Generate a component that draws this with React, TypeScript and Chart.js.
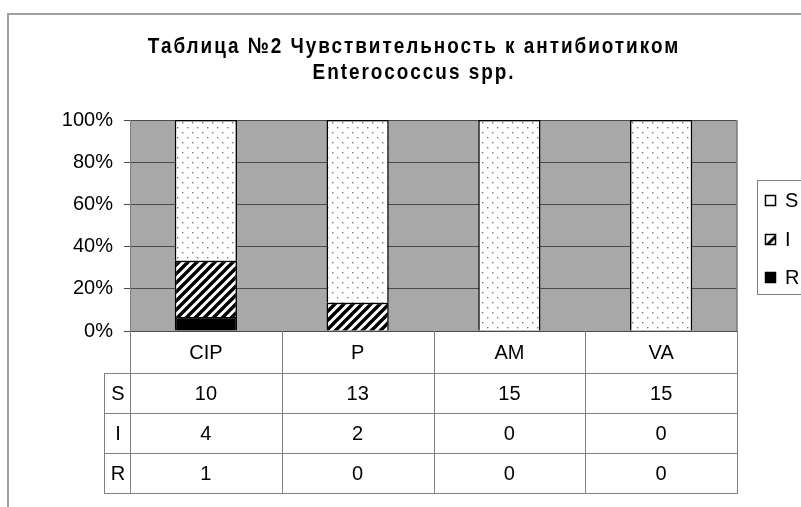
import React, { useEffect, useRef } from "react";
import { Chart, registerables } from "chart.js";

Chart.register(...registerables);

// ---- data ----
const categories = ["CIP", "P", "AM", "VA"];
const seriesS = [10, 13, 15, 15];
const seriesI = [4, 2, 0, 0];
const seriesR = [1, 0, 0, 0];
const legendNames = ["S", "I", "R"];
const yTickValues = [0, 20, 40, 60, 80, 100];
const titleLines = ["Таблица №2 Чувствительность к антибиотиком", "Enterococcus spp."];

const FONT = "'Liberation Sans', Arial, sans-serif";

function totals(i: number) {
  return seriesS[i] + seriesI[i] + seriesR[i];
}
function toPct(arr: number[]) {
  return arr.map((v, i) => (v / totals(i)) * 100);
}

function makeDots(): CanvasPattern {
  const c = document.createElement("canvas");
  c.width = 10;
  c.height = 10;
  const g = c.getContext("2d")!;
  g.fillStyle = "#ffffff";
  g.fillRect(0, 0, 10, 10);
  g.fillStyle = "#7a7a7a";
  g.fillRect(2, 2, 1.4, 1.4);
  g.fillRect(7, 7, 1.4, 1.4);
  return g.createPattern(c, "repeat")!;
}

function makeStripes(): CanvasPattern {
  const c = document.createElement("canvas");
  c.width = 9;
  c.height = 9;
  const g = c.getContext("2d")!;
  g.fillStyle = "#ffffff";
  g.fillRect(0, 0, 9, 9);
  g.strokeStyle = "#000000";
  g.lineWidth = 3.4;
  g.beginPath();
  g.moveTo(-1, 10);
  g.lineTo(10, -1);
  g.moveTo(-3, 3);
  g.lineTo(3, -3);
  g.moveTo(6, 12);
  g.lineTo(12, 6);
  g.stroke();
  return g.createPattern(c, "repeat")!;
}

export default function App() {
  const ref = useRef<HTMLCanvasElement | null>(null);

  useEffect(() => {
    const canvas = ref.current!;
    const dots = makeDots();
    const stripes = makeStripes();
    const fills: Record<string, any> = { S: dots, I: stripes, R: "#000000" };

    const chromePlugin = {
      id: "chrome",
      beforeDraw(chart: any) {
        const { ctx, chartArea: a } = chart;
        ctx.save();
        ctx.fillStyle = "#ffffff";
        ctx.fillRect(0, 0, chart.width, chart.height);
        // outer frame
        ctx.strokeStyle = "#a0a0a0";
        ctx.lineWidth = 2;
        ctx.beginPath();
        ctx.moveTo(8, chart.height + 2);
        ctx.lineTo(8, 14);
        ctx.lineTo(chart.width + 2, 14);
        ctx.stroke();
        // plot area
        ctx.fillStyle = "#a8a8a8";
        ctx.fillRect(a.left, a.top, a.right - a.left, a.bottom - a.top);
        ctx.restore();
      },
      beforeDatasetsDraw(chart: any) {
        const { ctx, chartArea: a } = chart;
        ctx.save();
        ctx.strokeStyle = "#7a7a7a";
        ctx.lineWidth = 1.5;
        ctx.beginPath();
        ctx.moveTo(a.right, a.top);
        ctx.lineTo(a.right, a.bottom);
        ctx.stroke();
        ctx.restore();
      },
      afterDraw(chart: any) {
        const { ctx, chartArea: a } = chart;
        const xs = chart.scales.x;
        const n = categories.length;
        const colW = (a.right - a.left) / n;
        const headerBottom = a.bottom + 42;
        const rowH = 40;
        const tableBottom = headerBottom + rowH * 3;
        const labelLeft = 104;

        ctx.save();
        ctx.strokeStyle = "#808080";
        ctx.lineWidth = 1;
        ctx.beginPath();
        for (let k = 0; k <= n; k++) {
          const x = Math.round(a.left + k * colW) + 0.5;
          ctx.moveTo(x, a.bottom);
          ctx.lineTo(x, tableBottom);
        }
        ctx.moveTo(labelLeft + 0.5, headerBottom);
        ctx.lineTo(labelLeft + 0.5, tableBottom);
        for (let r = 0; r <= 3; r++) {
          const y = Math.round(headerBottom + r * rowH) + 0.5;
          ctx.moveTo(labelLeft, y);
          ctx.lineTo(a.right + 1, y);
        }
        ctx.stroke();

        ctx.fillStyle = "#000000";
        ctx.font = `20px ${FONT}`;
        ctx.textAlign = "center";
        ctx.textBaseline = "middle";
        categories.forEach((c, i) => {
          ctx.fillText(c, xs.getPixelForValue(i), a.bottom + 22);
        });
        const rows = [seriesS, seriesI, seriesR];
        rows.forEach((arr, r) => {
          const cy = headerBottom + r * rowH + rowH / 2 + 1;
          ctx.fillText(legendNames[r], (labelLeft + a.left) / 2 + 1, cy);
          arr.forEach((v, i) => {
            ctx.fillText(String(v), xs.getPixelForValue(i), cy);
          });
        });

        // legend
        const lx = 757;
        const ly = 180;
        ctx.strokeStyle = "#808080";
        ctx.lineWidth = 1;
        ctx.strokeRect(lx + 0.5, ly + 0.5, 100, 114);
        legendNames.forEach((name, r) => {
          const cy = [200, 239, 277][r];
          ctx.fillStyle = name === "R" ? "#000000" : "#ffffff";
          ctx.fillRect(765, cy - 5, 11, 11);
          if (name === "I") {
            ctx.beginPath();
            ctx.moveTo(765, cy + 6);
            ctx.lineTo(776, cy - 5);
            ctx.lineTo(776, cy - 1);
            ctx.lineTo(769, cy + 6);
            ctx.closePath();
            ctx.fillStyle = "#000";
            ctx.fill();
          }
          ctx.strokeStyle = "#000";
          ctx.lineWidth = 1.5;
          ctx.strokeRect(765.5, cy - 4.5, 10, 10);
          ctx.fillStyle = "#000";
          ctx.textAlign = "left";
          ctx.font = `20px ${FONT}`;
          ctx.fillText(name, 785, cy + 1);
        });

        // title (narrow bold look)
        ctx.fillStyle = "#000";
        ctx.textAlign = "center";
        ctx.font = `bold 22px ${FONT}`;
        (ctx as any).letterSpacing = "2.3px";
        const sx = 0.86;
        ctx.save();
        ctx.scale(sx, 1);
        ctx.fillText(titleLines[0], 414 / sx, 47);
        ctx.fillText(titleLines[1], 414 / sx, 73);
        ctx.restore();
        ctx.restore();
      },
    };

    const chart = new Chart(canvas, {
      type: "bar",
      data: {
        labels: categories,
        datasets: [
          { label: "R", data: toPct(seriesR), backgroundColor: fills.R },
          { label: "I", data: toPct(seriesI), backgroundColor: fills.I },
          { label: "S", data: toPct(seriesS), backgroundColor: fills.S },
        ].map((d) => ({
          ...d,
          borderColor: "#000000",
          borderWidth: 1.5,
          categoryPercentage: 1,
          barPercentage: 0.41,
        })),
      },
      options: {
        animation: false,
        responsive: false,
        devicePixelRatio: 1,
        layout: { padding: { top: 120, bottom: 176, left: 0, right: 64 } },
        plugins: {
          legend: { display: false },
          title: { display: false },
          tooltip: { enabled: false },
        },
        scales: {
          x: { stacked: true, display: false },
          y: {
            stacked: true,
            min: 0,
            max: 100,
            afterBuildTicks: (s: any) => {
              s.ticks = yTickValues.map((v) => ({ value: v }));
            },
            afterFit: (s: any) => {
              s.width = 130;
            },
            ticks: {
              callback: (v: any) => `${v}%`,
              color: "#000000",
              font: { family: FONT, size: 20 },
              padding: 11,
            },
            grid: { color: "#4a4a4a", lineWidth: 1, tickLength: 6 },
            border: { color: "#808080" },
          },
        },
      },
      plugins: [chromePlugin],
    });
    return () => chart.destroy();
  }, []);

  return (
    <div style={{ position: "fixed", left: 0, top: 0, width: 801, height: 507 }}>
      <canvas ref={ref} width={801} height={507} style={{ width: 801, height: 507, display: "block" }} />
    </div>
  );
}
